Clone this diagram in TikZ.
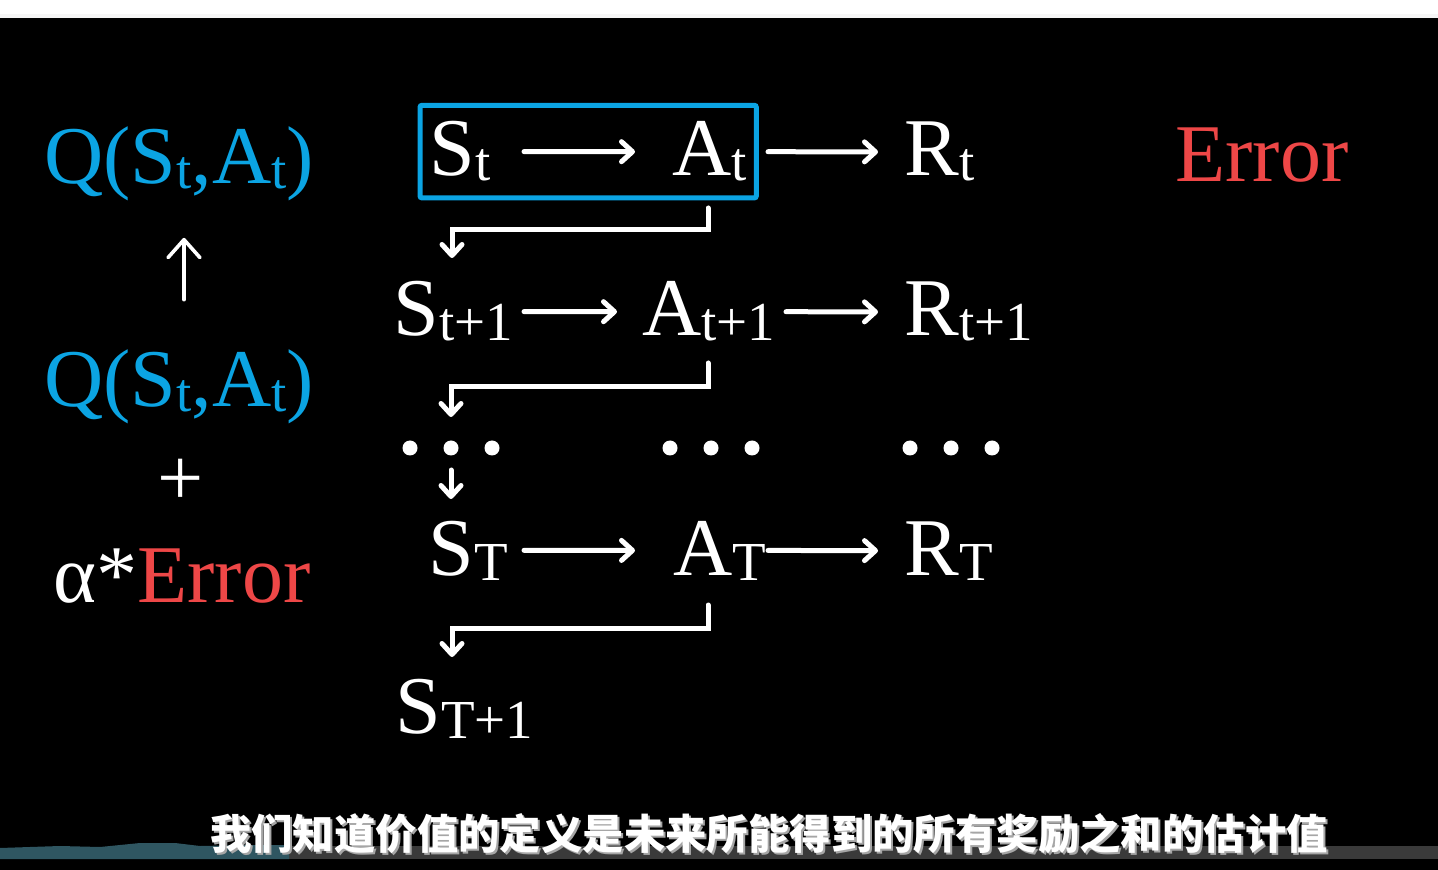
\documentclass[tikz,border=0pt]{standalone}
\usepackage{fontspec}
\setmainfont{Liberation Serif}
\newfontfamily\cjkfont{Noto Sans CJK SC}
\usetikzlibrary{arrows.meta,fit}
\definecolor{ink}{HTML}{FFFFFF}
\definecolor{qblue}{HTML}{0BA4E3}
\definecolor{errred}{HTML}{EE4747}
\definecolor{band}{HTML}{3A3A3A}
\definecolor{tide}{HTML}{2F5661}

\begin{document}
\begin{tikzpicture}[x=0.5pt,y=-0.5pt,font=\fontsize{41}{49}\selectfont,
  lbl/.style={inner sep=0pt,anchor=base west,text=ink},
  arr/.style={ink,line width=2.5pt,line cap=round,-{Straight Barb[length=5.5pt,width=10pt,round]}},
  uparr/.style={ink,line width=1.8pt,line cap=round,-{Straight Barb[length=9pt,width=16pt,round]}},
  subline/.style={font=\cjkfont\bfseries\fontsize{20.7}{24}\selectfont,inner sep=0pt}]
\def\low#1{\raisebox{-2.5pt}{\fontsize{27.5}{28}\selectfont #1}}
% backdrop
\fill[black] (0,0) rectangle (1438,870);
\fill[white] (0,0) rectangle (1438,18);
\fill[gray!7] (0,14) rectangle (1438,18);
% player bar
\fill[band] (289,846) rectangle (1438,859);
\fill[tide] (0,859) -- (0,848) -- (60,846) -- (100,847) -- (140,843) -- (175,843)
  -- (200,846) -- (250,845) -- (289,845) -- (289,859) -- cycle;
% update rule
\node[lbl,text=qblue] (Qtop) at (44,184) {Q(S\low{t},A\low{t})};
\node[lbl,text=qblue] (Qbot) at (44,407) {Q(S\low{t},A\low{t})};
\node[inner sep=0pt,text=ink] (plus) at (181,482) {+};
\node[lbl] (upd) at (53,602) {α*\textcolor{errred}{Error}};
\draw[uparr,shorten <=25pt,shorten >=18pt] (Qbot.north -| 184,0) -- (Qtop.south -| 184,0);
% trajectory
\node[lbl] (St) at (429,176) {S\low{t}};
\node[lbl] (At) at (672,176) {A\low{t}};
\node[lbl] (Rt) at (904,176) {R\low{t}};
\node[lbl] (St1) at (393,336) {S\low{t+1}};
\node[lbl] (At1) at (642,336) {A\low{t+1}};
\node[lbl] (Rt1) at (904,336) {R\low{t+1}};
\node[lbl] (ST) at (428,575) {S\low{T}};
\node[lbl] (AT) at (673,575) {A\low{T}};
\node[lbl] (RT) at (904,575) {R\low{T}};
\node[lbl] (ST1) at (395,733) {S\low{T+1}};
\node[lbl,text=errred] (err) at (1175,182) {Error};
% current step
\node[draw=qblue,line width=2.5pt,rounded corners=1pt,inner xsep=4.5pt,inner ysep=8pt,fit=(St)(At)] (now) {};
% ellipsis rows
\foreach \x in {410,451,492,670,711,752,910,951,992}
  \fill[ink] (\x,448) circle (3.75pt);
\coordinate (gap) at (451,448);
% transitions
\foreach \a/\b/\p/\q in {St/At/524/635,At/Rt/768/878,St1/At1/524/617,At1/Rt1/786/878,ST/AT/524/635,AT/RT/768/878}
  \draw[arr] (\a.east -| \p,0) -- (\b.west -| \q,0);
\draw[arr,shorten >=39pt] (At.base -| 708,0) ++(0,32) -- ++(0,22) -| (St1.base -| 452,0);
\draw[arr,shorten >=15.5pt] (At1.base -| 708,0) ++(0,27) -- ++(0,24) -| (gap);
\draw[arr,shorten <=11pt,shorten >=38pt] (gap) -- (gap |- ST.base);
\draw[arr,shorten >=38pt] (AT.base -| 708,0) ++(0,30) -- ++(0,23) -| (ST1.base -| 452,0);
% subtitle
\node[subline,text=gray!70] (subshade) at (771,836) {我们知道价值的定义是未来所能得到的所有奖励之和的估计值};
\node[subline,text=ink] (subtitle) at (769,834) {我们知道价值的定义是未来所能得到的所有奖励之和的估计值};
\end{tikzpicture}
\end{document}
